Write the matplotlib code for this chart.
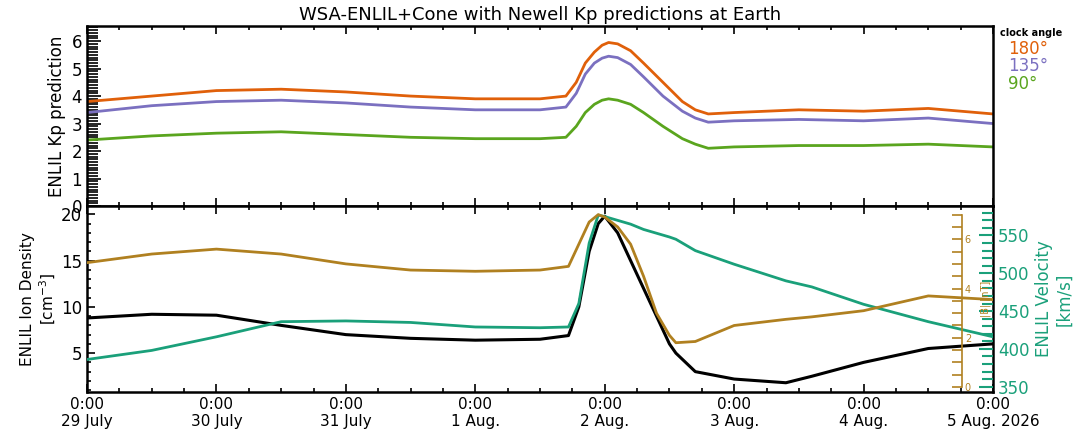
import numpy as np
import matplotlib
matplotlib.use("Agg")
import matplotlib.pyplot as plt
from matplotlib.ticker import MultipleLocator

# time in days since 0:00 29 July
t_kp = [0, 0.5, 1.0, 1.5, 2.0, 2.5, 3.0, 3.5, 3.7, 3.78, 3.85, 3.92, 3.98, 4.03, 4.1, 4.2, 4.3, 4.45, 4.6, 4.7, 4.8, 5.0, 5.5, 6.0, 6.5, 7.0]
kp180 = [3.8, 4.0, 4.2, 4.25, 4.15, 4.0, 3.9, 3.9, 4.0, 4.5, 5.2, 5.6, 5.85, 5.95, 5.9, 5.65, 5.2, 4.5, 3.8, 3.5, 3.35, 3.4, 3.5, 3.45, 3.55, 3.35]
kp135 = [3.4, 3.65, 3.8, 3.85, 3.75, 3.6, 3.5, 3.5, 3.6, 4.1, 4.8, 5.2, 5.38, 5.45, 5.4, 5.15, 4.7, 4.0, 3.45, 3.2, 3.05, 3.1, 3.15, 3.1, 3.2, 3.0]
kp90 = [2.4, 2.55, 2.65, 2.7, 2.6, 2.5, 2.45, 2.45, 2.5, 2.9, 3.4, 3.7, 3.85, 3.9, 3.85, 3.7, 3.4, 2.9, 2.45, 2.25, 2.1, 2.15, 2.2, 2.2, 2.25, 2.15]

t_sw = [0, 0.5, 1.0, 1.5, 2.0, 2.5, 3.0, 3.5, 3.72, 3.8, 3.88, 3.95, 4.0, 4.1, 4.2, 4.3, 4.4, 4.5, 4.55, 4.7, 5.0, 5.4, 5.6, 6.0, 6.5, 7.0]
density = [8.8, 9.2, 9.1, 8.0, 7.0, 6.6, 6.4, 6.5, 6.9, 10.0, 16.0, 19.0, 19.8, 18.0, 15.0, 12.0, 9.0, 6.0, 5.0, 3.0, 2.2, 1.8, 2.5, 4.0, 5.5, 6.0]
bmag = [5.05, 5.4, 5.6, 5.4, 5.0, 4.75, 4.7, 4.75, 4.9, 5.8, 6.7, 7.0, 6.9, 6.5, 5.8, 4.5, 3.0, 2.1, 1.8, 1.85, 2.5, 2.75, 2.85, 3.1, 3.7, 3.55]
velocity = [386, 398, 416, 436, 437, 435, 429, 428, 429, 460, 540, 577, 575, 570, 565, 558, 553, 548, 545, 530, 512, 490, 482, 459, 436, 416]

day_labels = ["0:00\n29 July", "0:00\n30 July", "0:00\n31 July", "0:00\n1 Aug.", "0:00\n2 Aug.",
              "0:00\n3 Aug.", "0:00\n4 Aug.", "0:00\n5 Aug. 2026"]

orange = "#e0600a"
purple = "#7b70c0"
green = "#5aa51e"
brown = "#b08020"
teal = "#1aa07a"

plt.rcParams['font.family'] = ['DejaVu Sans']
fig = plt.figure(figsize=(10.8, 4.32), dpi=100)
ax0 = fig.add_axes([87/1080, 226/432, 906/1080, 180/432])
ax1 = fig.add_axes([87/1080, 40/432, 906/1080, 186/432])

for ax in (ax0, ax1):
    ax.set_xlim(0, 7)
    ax.xaxis.set_major_locator(MultipleLocator(1))
    ax.xaxis.set_minor_locator(MultipleLocator(0.25))
    ax.tick_params(which='both', direction='in', top=True, width=1.2)
    ax.tick_params(which='major', length=6)
    ax.tick_params(which='minor', length=3)
    for s in ax.spines.values():
        s.set_linewidth(1.8)

ax0.plot(t_kp, kp180, color=orange, lw=2)
ax0.plot(t_kp, kp135, color=purple, lw=2)
ax0.plot(t_kp, kp90, color=green, lw=2)
ax0.set_ylim(0, 6.55)
ax0.yaxis.set_major_locator(MultipleLocator(1))
ax0.yaxis.set_minor_locator(MultipleLocator(0.1))
ax0.tick_params(axis='y', which='minor', length=8)
ax0.tick_params(axis='y', which='major', length=10, labelsize=12)
ax0.set_xticklabels([])
ax0.set_ylabel("ENLIL Kp prediction", fontsize=12)
ax0.set_title("WSA-ENLIL+Cone with Newell Kp predictions at Earth", fontsize=13, pad=4)
fig.text(1000/1080, 1 - 33/432, "clock angle", fontsize=7, fontweight='bold', va='center')
fig.text(1008/1080, 1 - 49/432, "180°", fontsize=12, color=orange, va='center')
fig.text(1008/1080, 1 - 66/432, "135°", fontsize=12, color=purple, va='center')
fig.text(1008/1080, 1 - 84/432, "90°", fontsize=12, color=green, va='center')

ax1.plot(t_sw, density, color='black', lw=2.2, zorder=5)
ax1.set_ylim(0.8, 20.9)
ax1.yaxis.set_major_locator(MultipleLocator(5))
ax1.yaxis.set_minor_locator(MultipleLocator(1))
ax1.tick_params(axis='y', labelsize=12)
ax1.set_ylabel("ENLIL Ion Density\n[cm$^{-3}$]", fontsize=11, labelpad=2)
ax1.set_xticks(range(8))
ax1.set_xticklabels(day_labels, fontsize=11)
ax1.tick_params(axis='y', right=False)

axv = ax1.twinx()
axv.plot(t_sw, velocity, color=teal, lw=2)
axv.set_ylim(343, 589)
axv.yaxis.set_major_locator(MultipleLocator(50))
axv.yaxis.set_minor_locator(MultipleLocator(10))
axv.tick_params(which='both', direction='in', colors=teal, labelsize=12, width=1.5)
axv.tick_params(which='major', length=10)
axv.tick_params(which='minor', length=8)
axv.set_ylabel("ENLIL Velocity\n[km/s]", color=teal, fontsize=12)
for s in axv.spines.values():
    s.set_visible(False)

axb = ax1.twinx()
axb.plot(t_sw, bmag, color=brown, lw=2)
axb.set_ylim(-0.2, 7.35)
axb.spines['right'].set_position(('axes', (962 - 87) / 906))
axb.spines['right'].set_bounds(0, 7)
axb.spines['right'].set_color(brown)
axb.spines['right'].set_linewidth(1.2)
for k in ('left', 'top', 'bottom'):
    axb.spines[k].set_visible(False)
axb.yaxis.set_major_locator(MultipleLocator(2))
axb.yaxis.set_minor_locator(MultipleLocator(0.5))
axb.tick_params(which='both', direction='in', colors=brown, labelsize=7, width=1.2, pad=2)
axb.tick_params(which='major', length=7)
axb.tick_params(which='minor', length=7)
axb.set_ylabel("|B| [nT]", color=brown, fontsize=7)
axb.yaxis.set_label_coords((980 - 87) / 906, 0.5)

fig.savefig("out.png")
